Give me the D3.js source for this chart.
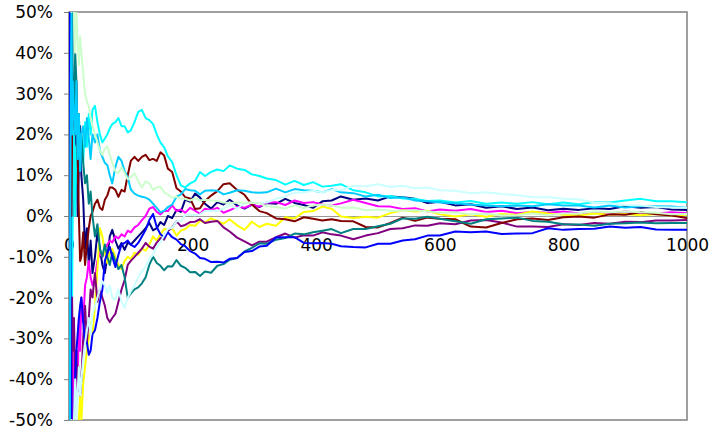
<!DOCTYPE html>
<html>
<head>
<meta charset="utf-8">
<script src="https://cdn.jsdelivr.net/npm/d3@7"></script>
<style>
  body { margin: 0; background: #fff; }
  svg text { font-family: "DejaVu Sans", Verdana, sans-serif; font-size: 17px; fill: #000; }
</style>
</head>
<body>
<div id="chart"></div>
<script>
const steps = [1,2,3,4,5,6,8,10,12,14,
  16,18,20,23,26,29,32,35,38,42,
  46,50,54,58,62,66,70,75,80,85,
  90,95,100,106,112,118,124,130,136,142,
  148,154,160,167,174,181,188,196,204,212,
  220,230,240,250,260,272,284,296,308,320,
  335,350,365,380,395,410,425,440,460,480,
  500,520,540,560,580,600,625,650,675,700,
  725,750,775,800,825,850,875,900,925,950,
  975,1000];

// deviation in %, one array per series
const navy = [100,100,33,50,20,0,25,20,17,0,
  12,22,10,4,-8,-3,-12,-6,-14,-10,
  -4,-8,-12,-14,-10,-5,-3.4,-6,-8,-6.6,
  -8.3,-6.5,-7,-6,-5,-4,-3,-1.7,-3.5,-3,
  -1.5,-2.2,0,-0.5,1.5,1,4,3.5,5.5,4.5,
  3,1.8,3.4,2.8,4,2.6,1.8,2.8,2.2,3.2,
  3,4.2,3.2,2.7,2,3.6,3.8,4.8,4,4.3,
  3.8,4.8,4.6,4.2,3.2,3.5,2.6,2.9,2,2.4,
  1.7,2.1,1.4,1.8,1.5,1.9,1.7,2.4,2,2.2,
  1.6,1.5];
const magenta = [-100,-100,-33,-50,-60,-33,-50,-40,-33,-43,
  -25,-33,-20,-26,-17,-15,-11,-15,-17,-15,
  -11,-9,-10,-8,-7,-6,-6.5,-5,-5.5,-4.5,
  -5,-3.6,-4,-2.8,-2.2,-1,0,1.8,2.2,1,
  0.4,1.3,1.2,2.6,1.2,1.6,0.8,2,1.3,0.5,
  1.8,1.5,2,0.8,1.4,2.3,2,2.8,2.3,3.3,
  3.4,2.7,3.8,3.2,3.4,2.8,2.6,3.1,4,3.2,
  2.4,2.3,1.7,1.9,1.1,1.6,1.3,1.7,1,1.3,
  0.7,1,0.8,1.1,0.6,0.9,0.7,1.1,0.8,0.6,
  0.9,0.7];
const yellow = [-100,-100,-100,-50,-60,-67,-50,-60,-50,-57,
  -50,-44,-50,-41,-37,-33,-30,-26,-29,-22,
  -13,-3,-5,-9,-11.5,-9,-8,-10,-12,-13,
  -11,-10,-10.5,-9,-9.5,-8,-8.5,-7,-5,-6,
  -4.5,-3.2,-3.4,-3,-4.8,-3.6,-3.2,-2.2,-2.4,-1.2,
  -1.6,-0.6,-1.2,-1.9,-0.8,-2.3,-3.4,-1.4,-2.7,-1.9,
  -2.4,-0.3,-0.6,1,1.2,2.3,1.8,-0.1,-0.5,-0.2,
  -0.4,0.7,1.4,1.1,1.3,0.4,-0.1,0.4,-0.2,0.5,
  0.3,1.1,0.6,0.3,0.1,0.6,0.3,0.5,0.2,0.5,
  0.1,0.3];
const cyan = [100,0,33,0,-20,0,25,0,17,14,
  25,11,20,13,23,17,25,20,26,27,
  23,20,18,19,20,21.5,22.5,23,24,22,
  22,20.5,21,23,25.5,26,24,23.5,22.5,20,
  18,16.8,14.6,13.2,10,7.5,7,8,8.6,10.8,
  9.8,10.8,11.4,11,12.4,11.6,11.3,10.2,9.8,9.2,
  8.8,7.7,8.6,7.6,8.3,7.2,7.4,7.8,6.3,5.8,
  4.8,4.9,4.3,4.2,3.7,3.8,3.3,3.7,3,3.3,
  3,3.4,2.9,3.3,2.9,3.4,3.3,3.8,4.2,3.6,
  3.6,3.4];
const purple = [-100,-100,-33,-50,-20,-33,-25,-40,-33,-43,
  -37,-44,-40,-30,-22,-31,-25,-18,-20,-14,
  -21,-18,-20,-22,-25,-26,-25,-24,-21,-18,
  -15.7,-12,-11,-10,-9,-8,-6.6,-7.5,-8,-6.5,
  -5.4,-5.8,-3.7,-2.8,-1.3,-2.5,-2.2,-1.5,-1.4,-0.8,
  -1.7,-1.4,-1.2,-2.8,-3.8,-5.3,-6.2,-7.2,-6.3,-6.3,
  -5.2,-4.3,-5.3,-4.7,-4.8,-4,-4.5,-4.8,-5.7,-4.8,
  -4.2,-3.2,-3,-2.3,-2.4,-1.8,-2,-1.1,-1,-1.6,
  -2.6,-2.6,-2.7,-2,-2.2,-1.7,-1.9,-1.4,-1.5,-1.1,
  -1.1,-1];
const maroon = [-100,0,33,0,20,33,25,20,33,14,
  0,-11,-10,-4,-12,-7,-3,0,1,3,
  4,2,1.5,4,5,7,7,6.4,4.7,6.4,
  6,10,13.5,14.5,13.5,14.5,15,13.7,14,13.5,
  15.6,14.8,11.6,10.8,6.8,6,4.6,4.3,1.7,1.9,
  3.7,5,6.1,7.8,8,6.4,5.2,2.8,1.2,0.7,
  -0.6,-0.8,-1.3,-0.3,-0.7,-1.1,-0.8,-1.2,-1.3,-2.7,
  -2.8,-1.7,-0.4,-1.2,-0.4,-0.7,-0.8,-2.6,-2.8,-1.7,
  -0.8,-0.6,-1,-0.3,-0.1,-0.4,0.4,0.3,0.9,0.4,
  0.1,-0.5];
const teal = [100,100,33,50,60,33,25,40,33,14,
  25,11,20,13,8,10,3,6,0,-5,
  -2,-8,-10,-7,-10,-12,-9,-11,-13,-12,
  -15,-20,-19,-18,-17.5,-16.5,-15,-12,-10,-11.5,
  -12.2,-13.3,-12.3,-12.4,-10.8,-12.2,-12.7,-13.8,-13.7,-14.7,
  -13.6,-13.9,-12.2,-11.8,-10.7,-10.3,-8.7,-7.8,-6.7,-6.8,
  -5.8,-5.4,-4.3,-4.5,-4,-3.6,-3.2,-4.2,-3.2,-3.2,
  -2.5,-1.9,-0.6,-0.7,-0.2,-0.7,-1.3,-1.9,-0.8,-0.6,
  -0.4,-1.2,-1.4,-2,-2.1,-2.4,-1.9,-1.8,-1.6,-1.8,
  -1.7,-1.7];
const blue = [100,0,-33,-50,-60,-67,-50,-40,-33,-29,
  -25,-22,-20,-26,-31,-31,-34,-33,-29,-28,
  -25,-21,-18,-11,-9,-7.6,-10,-12.5,-9.5,-7,
  -6.6,-6,-7,-7.6,-6.6,-5,-3.4,-1,0.5,-2.7,
  -4.5,-5.3,-4,-5.2,-5.8,-6.9,-7.4,-8.6,-9.2,-10.3,
  -10.5,-11.3,-11.2,-11.4,-10.5,-10.3,-8.8,-8.6,-7.5,-7.3,
  -5.3,-5.2,-5.2,-6.6,-6.7,-6.6,-6.8,-7.4,-7.6,-7.7,
  -6.8,-6.8,-6,-5.7,-4.8,-4.8,-3.8,-4,-3.8,-4.4,
  -4.3,-4.2,-3,-3.4,-3.2,-3.1,-2.6,-2.9,-2.7,-3.3,
  -3.4,-3.4];
const skyBlue = [-100,0,33,50,20,33,25,20,33,14,
  25,11,20,22,17,24,19,14,20,18,
  20,16,14.5,13,12.5,10,8,12,14.5,13.5,
  11,9.5,6.5,5.5,5,4.7,4.5,4,3,2,
  0.9,1.3,2.2,2.8,4.7,5.3,6.6,6.3,6.2,5.3,
  6.2,6.3,6.2,5.3,5.7,6.3,6.2,5.8,5.7,5.8,
  6.7,5.8,6.6,6.3,6.2,5.8,6.6,5.8,5.6,4.8,
  5.2,4.4,4.6,3.8,3.6,3.3,3.1,2.8,2.6,2.4,
  2.6,2.4,2.9,2.6,2.6,2.1,2.6,2.1,2.4,2.4,
  2.3,2];
const lightCyan = [-100,-100,-100,-50,-60,-67,-50,-40,-50,-43,
  -37,-44,-40,-35,-31,-28,-25,-29,-24,-22,
  -20,-18,-16,-17,-19,-17,-20,-20.5,-18,-21,
  -22.5,-20,-18.5,-17,-15,-13.5,-12.5,-10.5,-9.5,-7.5,
  -6.4,-4.8,-3.2,-2.9,-1.3,-1.2,0.2,0.3,0.2,0.4,
  1.2,1.3,1.2,1.8,2.7,1.8,3.2,3.3,3.2,3.3,
  4.2,4.8,5.7,5.8,6.2,5.8,6.4,6.3,7.4,7.3,
  7.8,7.1,7.4,6.8,7,6.3,6.2,5.6,5.8,5.4,
  5.1,4.6,4.6,4.2,4.1,3.3,3.1,2.7,2.6,2.2,
  2.1,2];
const lightGreen = [100,100,67,50,60,67,50,40,50,43,
  37,44,40,35,30,28,27,24,22,20,
  18,16,15,16.5,17,15,13,11,10.5,12,
  10.5,9,9.5,10.5,8.5,7,8.5,8,6.4,7,
  7.2,5.8,5.2,4.5,4.7,4.3,4.2,3.8,4.4,3.8,
  4,3.8,3.7,3.3,3.2,3.3,3.2,3.3,3.1,2.4,
  2.2,1.8,2.6,1.9,2.6,2.8,2.6,2,2.1,1.4,
  1.6,1.3,1.3,1.4,1.1,0.8,0.9,0.4,0.6,0.1,
  0.2,0.6,0.2,0.6,0.7,1.1,0.9,1.1,0.9,0.8,
  0.4,0.5];

const series = [
  { values: navy, color: "#000080" },
  { values: magenta, color: "#FF00FF" },
  { values: yellow, color: "#FFFF00" },
  { values: cyan, color: "#00FFFF" },
  { values: purple, color: "#800080" },
  { values: maroon, color: "#800000" },
  { values: teal, color: "#008080" },
  { values: blue, color: "#0000FF" },
  { values: skyBlue, color: "#00CCFF" },
  { values: lightCyan, color: "#CCFFFF" },
  { values: lightGreen, color: "#CCFFCC" }
];

const yTicks = [-50, -40, -30, -20, -10, 0, 10, 20, 30, 40, 50];
const xTicks = [0, 200, 400, 600, 800, 1000];

const width = 720, height = 436;
const margin = { left: 69, right: 687, top: 12, bottom: 420 };

const svg = d3.select("#chart").append("svg")
  .attr("width", width)
  .attr("height", height);

const x = d3.scaleLinear().domain([0, 1000]).range([margin.left, margin.right]);
const y = d3.scaleLinear().domain([-50, 50]).range([margin.bottom, margin.top]);

svg.append("clipPath").attr("id", "plot")
  .append("rect")
  .attr("x", margin.left).attr("y", margin.top)
  .attr("width", margin.right - margin.left).attr("height", margin.bottom - margin.top);

// plot area border
svg.append("rect")
  .attr("x", margin.left).attr("y", margin.top)
  .attr("width", margin.right - margin.left).attr("height", margin.bottom - margin.top)
  .attr("fill", "none")
  .attr("stroke", "#808080")
  .attr("stroke-width", 1.5);

// x axis sits on the 0% line, labels below it
const gX = svg.append("g")
  .attr("transform", "translate(0," + y(0) + ")")
  .call(d3.axisBottom(x).tickValues(xTicks).tickSize(0).tickPadding(23).tickFormat(d3.format("d")));
gX.select(".domain").attr("stroke", "#999").attr("stroke-width", 1);
gX.selectAll("text").style("font-size", "17px");

const gY = svg.append("g")
  .attr("transform", "translate(" + margin.left + ",0)")
  .call(d3.axisLeft(y).tickValues(yTicks).tickSize(5).tickPadding(11).tickSizeOuter(0).tickFormat(d => d + "%"));
gY.select(".domain").attr("stroke", "#808080").attr("stroke-width", 1.5);
gY.selectAll(".tick line").attr("stroke", "#808080");
gY.selectAll("text").style("font-size", "17px");

const line = d3.line()
  .x((d, i) => x(steps[i]))
  .y(d => y(d));

svg.append("g")
  .attr("clip-path", "url(#plot)")
  .selectAll("path")
  .data(series)
  .enter()
  .append("path")
  .attr("d", s => line(s.values))
  .attr("fill", "none")
  .attr("stroke", s => s.color)
  .attr("stroke-width", 2)
  .attr("stroke-linejoin", "round");
</script>
</body>
</html>
